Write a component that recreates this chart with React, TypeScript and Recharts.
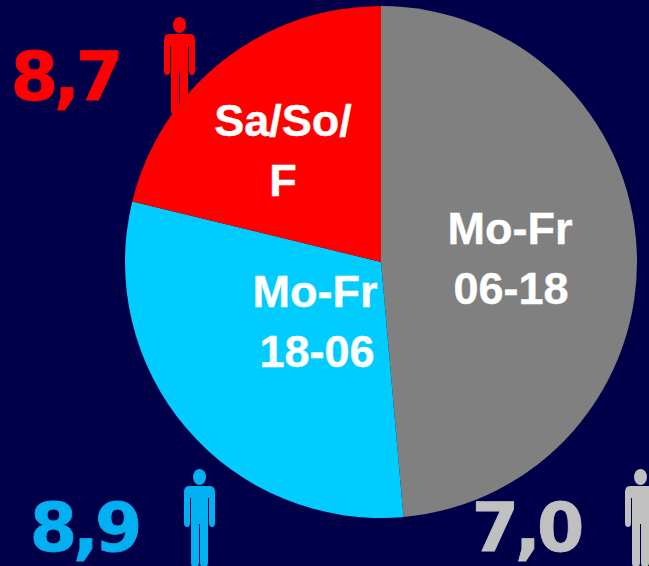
import React from "react";
import { PieChart, Pie, Cell } from "recharts";

const segmentNames = ["Mo-Fr 06-18", "Mo-Fr 18-06", "Sa/So/F"];
const segmentShares = [48.6, 30.2, 21.2];
const segmentColors = ["#808080", "#00CCFF", "#FF0000"];
const figures = ["8,7", "8,9", "7,0"];
const figureColors = ["#FF0000", "#00B0F0", "#C0C0C0"];

const data = segmentNames.map((name, i) => ({ name, value: segmentShares[i] }));

function Person({ x, y, color }: { x: number; y: number; color: string }) {
  return (
    <g transform={`translate(${x},${y})`} fill={color}>
      <ellipse cx={15.5} cy={8} rx={6.5} ry={8} />
      <path d="M5 17 H26 Q31 17 31 23 V54 Q31 58 28 58 Q25 58 25 54 V29 H24 V94 Q24 98 19.5 98 Q16 98 16 94 V55 H15 V94 Q15 98 10.5 98 Q7 98 7 94 V29 H6 V54 Q6 58 3 58 Q0 58 0 54 V23 Q0 17 5 17 Z" />
    </g>
  );
}

const labelStyle = { fontFamily: "Liberation Sans", fontWeight: 700, fontSize: 45, fill: "#FFFFFF", stroke: "#FFFFFF", strokeWidth: 0.4 };
const figureStyle = { fontFamily: "DejaVu Sans", fontWeight: 700, fontSize: 68, letterSpacing: -4, strokeWidth: 0.8 };

export default function App() {
  return (
    <div style={{ position: "absolute", left: 0, top: 0, width: 649, height: 566, overflow: "hidden", background: "#00004A" }}>
      <svg width={649} height={566} style={{ position: "absolute", left: 0, top: 0 }}>
        <Person x={164} y={17} color={figureColors[0]} />
      </svg>
      <div style={{ position: "absolute", left: 0, top: 0 }}>
        <PieChart width={649} height={566} margin={{ top: 0, right: 0, bottom: 0, left: 0 }}>
          <Pie
            data={data}
            dataKey="value"
            cx={381}
            cy={262}
            outerRadius={256}
            innerRadius={0}
            startAngle={90}
            endAngle={-270}
            stroke="none"
            isAnimationActive={false}
          >
            {data.map((d, i) => (
              <Cell key={d.name} fill={segmentColors[i]} />
            ))}
          </Pie>
        </PieChart>
      </div>
      <svg width={649} height={566} style={{ position: "absolute", left: 0, top: 0 }}>
        <Person x={184} y={469} color={figureColors[1]} />
        <Person x={625} y={469} color={figureColors[2]} />
        <text x={283} y={136} textAnchor="middle" style={labelStyle}>Sa/So/</text>
        <text x={283} y={196} textAnchor="middle" style={labelStyle}>F</text>
        <text x={510} y={244} textAnchor="middle" style={labelStyle}>Mo-Fr</text>
        <text x={511} y={304} textAnchor="middle" style={labelStyle}>06-18</text>
        <text x={315} y={307} textAnchor="middle" style={labelStyle}>Mo-Fr</text>
        <text x={317} y={367} textAnchor="middle" style={labelStyle}>18-06</text>
        <text x={65} y={100} textAnchor="middle" fill={figureColors[0]} stroke={figureColors[0]} style={figureStyle}>{figures[0]}</text>
        <text x={84} y={551} textAnchor="middle" fill={figureColors[1]} stroke={figureColors[1]} style={figureStyle}>{figures[1]}</text>
        <text x={526} y={551} textAnchor="middle" fill={figureColors[2]} stroke={figureColors[2]} style={figureStyle}>{figures[2]}</text>
      </svg>
    </div>
  );
}
